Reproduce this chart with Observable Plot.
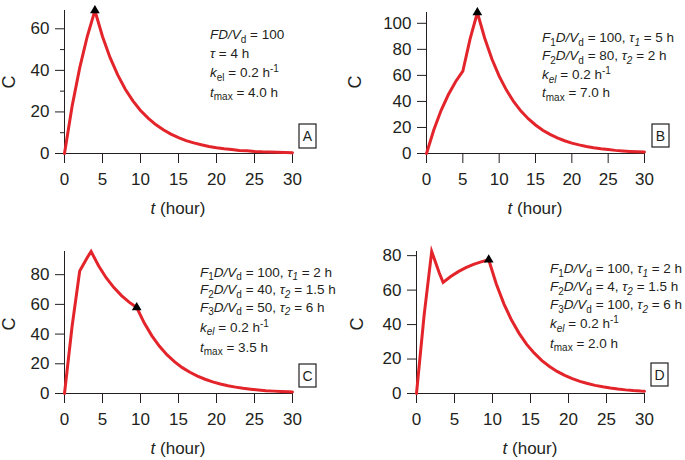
<!DOCTYPE html>
<html>
<head>
<meta charset="utf-8">
<script src="https://cdn.jsdelivr.net/npm/d3@7"></script>
<script src="https://cdn.jsdelivr.net/npm/@observablehq/plot@0.6"></script>
<style>
  html, body { margin: 0; padding: 0; background: #fff; }
  #root { position: relative; width: 685px; height: 460px; overflow: hidden; }
  .panel { position: absolute; }
  svg text { white-space: pre; }
</style>
</head>
<body>
<div id="root"></div>
<script>
// ---- data ----
const tA = [0,1,2,3,4,5,6,7,8,9,10,11,12,13,14,15,16,17,18,19,20,21,22,23,24,25,26,27,28,29,30];
const cA = [0,22.7,41.2,56.4,68.8,56.3,46.1,37.8,30.9,25.3,20.7,17.0,13.9,11.4,9.3,7.6,6.2,5.1,4.2,3.4,2.8,2.3,1.9,1.5,1.3,1.0,0.8,0.7,0.6,0.5,0.4];

const tB = [0,1,2,3,4,5,6,7,8,9,10,11,12,13,14,15,16,17,18,19,20,21,22,23,24,25,26,27,28,29,30];
const cB = [0,18.1,33.0,45.1,55.1,63.2,88.0,108.3,88.7,72.6,59.4,48.7,39.8,32.6,26.7,21.9,17.9,14.7,12.0,9.8,8.0,6.6,5.4,4.4,3.6,3.0,2.4,2.0,1.6,1.3,1.1];

const tC = [0,1,2,3,3.5,4.5,5.5,6.5,7.5,8.5,9.5,10.5,11.5,12.5,13.5,14.5,15.5,16.5,17.5,18.5,19.5,20.5,21.5,22.5,23.5,24.5,25.5,26.5,27.5,28.5,29.5,30];
const cC = [0,45.3,82.4,91.6,95.6,85.8,77.8,71.3,65.9,61.5,57.9,47.4,38.8,31.8,26.0,21.3,17.4,14.3,11.7,9.6,7.8,6.4,5.2,4.3,3.5,2.9,2.4,1.9,1.6,1.3,1.1,1.0];

const tD = [0,1,2,3,3.5,4.5,5.5,6.5,7.5,8.5,9.5,10.5,11.5,12.5,13.5,14.5,15.5,16.5,17.5,18.5,19.5,20.5,21.5,22.5,23.5,24.5,25.5,26.5,27.5,28.5,29.5,30];
const cD = [0,45.3,82.4,69.9,64.5,67.9,70.7,73.0,74.9,76.4,77.6,63.5,52.0,42.6,34.9,28.5,23.4,19.1,15.7,12.8,10.5,8.6,7.0,5.8,4.7,3.9,3.2,2.6,2.1,1.7,1.4,1.3];

const peakT = [4, 7, 9.5, 9.5];
const peakC = [68.8, 108.3, 57.9, 77.6];

const xTicks = [0,5,10,15,20,25,30];
const yTicksA = [0,20,40,60];
const yMinorA = [10,30,50];
const yTicksB = [0,20,40,60,80,100];
const yTicksCD = [0,20,40,60,80];

const panelLetters = ["A","B","C","D"];

// annotation lines: [text, style] with style "", "i", "sub", "isub", "sup"
const notesA = [
  [["FD/V","i"],["d","sub"],[" = 100",""]],
  [["τ","i"],[" = 4 h",""]],
  [["k","i"],["el","sub"],[" = 0.2 h",""],["-1","sup"]],
  [["t","i"],["max","sub"],[" = 4.0 h",""]]
];
const notesB = [
  [["F","i"],["1","sub"],["D/V","i"],["d","sub"],[" = 100, ",""],["τ","i"],["1","isub"],[" = 5 h",""]],
  [["F","i"],["2","sub"],["D/V","i"],["d","sub"],[" = 80, ",""],["τ","i"],["2","isub"],[" = 2 h",""]],
  [["k","i"],["el","isub"],[" = 0.2 h",""],["-1","sup"]],
  [["t","i"],["max","sub"],[" = 7.0 h",""]]
];
const notesC = [
  [["F","i"],["1","sub"],["D/V","i"],["d","sub"],[" = 100, ",""],["τ","i"],["1","isub"],[" = 2 h",""]],
  [["F","i"],["2","sub"],["D/V","i"],["d","sub"],[" = 40, ",""],["τ","i"],["2","isub"],[" = 1.5 h",""]],
  [["F","i"],["3","sub"],["D/V","i"],["d","sub"],[" = 50, ",""],["τ","i"],["2","isub"],[" = 6 h",""]],
  [["k","i"],["el","isub"],[" = 0.2 h",""],["-1","sup"]],
  [["t","i"],["max","sub"],[" = 3.5 h",""]]
];
const notesD = [
  [["F","i"],["1","sub"],["D/V","i"],["d","sub"],[" = 100, ",""],["τ","i"],["1","isub"],[" = 2 h",""]],
  [["F","i"],["2","sub"],["D/V","i"],["d","sub"],[" = 4, ",""],["τ","i"],["2","isub"],[" = 1.5 h",""]],
  [["F","i"],["3","sub"],["D/V","i"],["d","sub"],[" = 100, ",""],["τ","i"],["2","isub"],[" = 6 h",""]],
  [["k","i"],["el","isub"],[" = 0.2 h",""],["-1","sup"]],
  [["t","i"],["max","sub"],[" = 2.0 h",""]]
];

// ---- layout ----
const FONT = "'Liberation Sans', Arial, Helvetica, sans-serif";
const RED = "#e3242b";
const INK = "#231f20";

const panels = [
  {t: tA, c: cA, yTicks: yTicksA, yMinor: yMinorA, notes: notesA,
   left: 0, top: 0, width: 342, mL: 64, mR: 50, mT: 10, mB: 77,
   noteX: 210, noteY: [39, 58, 77, 96.5],
   box: [299, 124, 17, 24], ylab: [9, 82], xlabY: 214},
  {t: tB, c: cB, yTicks: yTicksB, yMinor: [], notes: notesB,
   left: 342, top: 0, width: 343, mL: 84, mR: 41, mT: 12, mB: 77,
   noteX: 200, noteY: [42, 60, 79, 97],
   box: [310, 124, 17, 23], ylab: [13, 82], xlabY: 214},
  {t: tC, c: cC, yTicks: yTicksCD, yMinor: [], notes: notesC,
   left: 0, top: 230, width: 342, mL: 64, mR: 50, mT: 21, mB: 67,
   noteX: 200, noteY: [46.7, 64.3, 81.7, 101.7, 121.7],
   box: [299, 134, 17, 23], ylab: [9, 94], xlabY: 224},
  {t: tD, c: cD, yTicks: yTicksCD, yMinor: [], notes: notesD,
   left: 342, top: 230, width: 343, mL: 74, mR: 41, mT: 21, mB: 67,
   noteX: 208, noteY: [43.3, 61, 79, 98, 117.7],
   box: [309, 133, 17, 23], ylab: [15, 94], xlabY: 224}
];

function richLine(g, x, y, segs, size) {
  const t = g.append("text")
    .attr("x", x).attr("y", y)
    .attr("text-anchor", "start")
    .attr("font-size", size)
    .attr("font-family", FONT)
    .attr("fill", INK);
  let shift = 0;
  for (const [str, st] of segs) {
    const isSub = st === "sub" || st === "isub";
    const isSup = st === "sup";
    const target = isSub ? 3.5 : isSup ? -5 : 0;
    const sp = t.append("tspan").attr("dy", target - shift).text(str);
    shift = target;
    if (st === "i" || st === "isub") sp.attr("font-style", "italic");
    if (isSub || isSup) sp.attr("font-size", size * 0.74);
  }
}

const root = document.getElementById("root");

panels.forEach((p, k) => {
  const data = p.t.map((t, i) => ({t, c: p.c[i]}));
  const ymax = d3.max(p.c);
  const svg = Plot.plot({
    width: p.width,
    height: 230,
    marginLeft: p.mL, marginRight: p.mR, marginTop: p.mT, marginBottom: p.mB,
    style: {fontFamily: FONT, fontSize: "17px", color: INK, background: "white", overflow: "visible"},
    x: {domain: [0, 30]},
    y: {domain: [0, ymax]},
    marks: [
      Plot.axisX({ticks: xTicks, tickSize: 10, tickPadding: 9, label: null, stroke: INK, fill: INK, fontSize: 17}),
      Plot.axisY({ticks: p.yTicks, tickSize: 9, tickPadding: 6, label: null, stroke: INK, fill: INK, fontSize: 17}),
      p.yMinor.length ? Plot.axisY({ticks: p.yMinor, tickSize: 4, text: null, label: null, stroke: INK}) : null,
      Plot.ruleX([0], {stroke: INK, strokeWidth: 1}),
      Plot.ruleY([0], {stroke: INK, strokeWidth: 1}),
      Plot.line(data, {x: "t", y: "c", stroke: RED, strokeWidth: 3, strokeLinejoin: "miter", strokeMiterlimit: 10}),
      Plot.dot([{t: peakT[k], c: peakC[k]}], {x: "t", y: "c", symbol: "triangle", fill: "black", stroke: "none", r: 3.6})
    ]
  });

  const div = document.createElement("div");
  div.className = "panel";
  div.style.left = p.left + "px";
  div.style.top = p.top + "px";
  div.appendChild(svg);
  root.appendChild(div);

  const g = d3.select(svg).append("g");

  // annotations
  p.notes.forEach((line, i) => richLine(g, p.noteX, p.noteY[i], line, 13.5));

  // panel letter box
  const [bx, by, bw, bh] = p.box;
  g.append("rect").attr("x", bx).attr("y", by).attr("width", bw).attr("height", bh)
    .attr("fill", "none").attr("stroke", INK).attr("stroke-width", 1.2);
  g.append("text").attr("x", bx + bw / 2).attr("y", by + bh / 2).attr("dy", "0.36em")
    .attr("text-anchor", "middle").attr("font-family", FONT).attr("font-size", 14)
    .attr("fill", INK).text(panelLetters[k]);

  // y label
  g.append("text")
    .attr("transform", `translate(${p.ylab[0]},${p.ylab[1]}) rotate(-90)`)
    .attr("dy", "0.36em").attr("text-anchor", "middle")
    .attr("font-family", FONT).attr("font-size", 18).attr("fill", INK).text("C");

  // x label
  const cx = (p.mL + (p.width - p.mR)) / 2;
  const xl = g.append("text").attr("x", cx).attr("y", p.xlabY)
    .attr("text-anchor", "middle").attr("font-family", FONT).attr("font-size", 17).attr("fill", INK);
  xl.append("tspan").attr("font-style", "italic").text("t");
  xl.append("tspan").text(" (hour)");
});
</script>
</body>
</html>
